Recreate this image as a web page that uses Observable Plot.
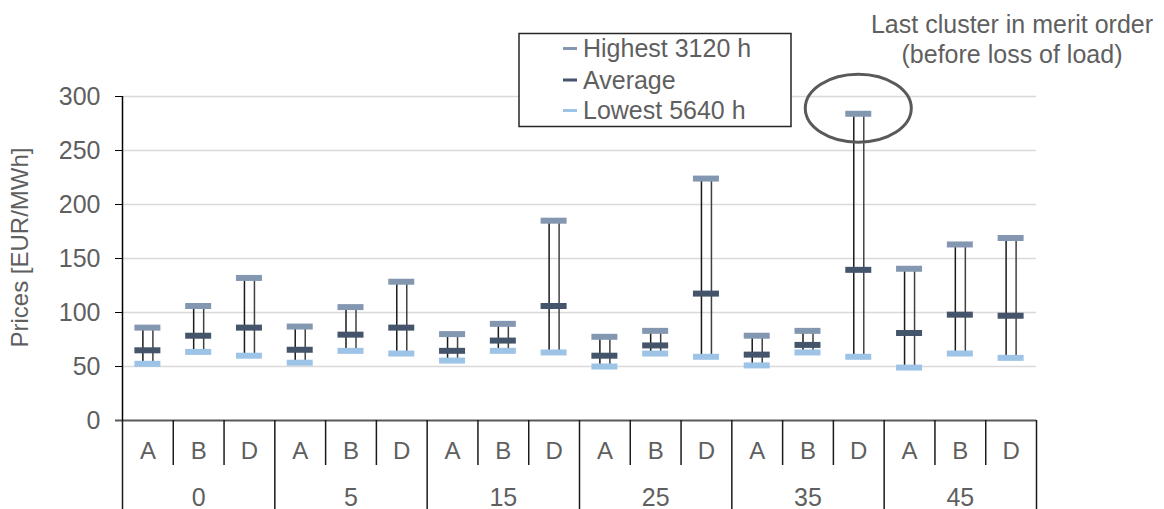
<!DOCTYPE html>
<html>
<head>
<meta charset="utf-8">
<script src="https://cdn.jsdelivr.net/npm/d3@7"></script>
<script src="https://cdn.jsdelivr.net/npm/@observablehq/plot@0.6"></script>
<style>
  html, body { margin: 0; padding: 0; background: white; }
  #chart svg text { fill: #5f5f5f; }
</style>
</head>
<body>
<div id="chart"></div>
<script>
// ---- data ----
const groups = ["0", "5", "15", "25", "35", "45"];
const subcats = ["A", "B", "D"];
const highest = [86, 106, 132, 87, 105, 128.5, 80, 89.5, 185, 77.5, 83, 224, 78.5, 83, 284, 140.5, 163, 169];
const average = [65, 78.5, 86, 65.5, 79.5, 86, 64.5, 74, 106, 60, 69.5, 117.5, 61, 70, 139.5, 81, 98, 97];
const lowest  = [52.5, 63.5, 60, 53.5, 64.5, 62, 55.5, 64.5, 63, 50, 62, 59, 51, 63, 59, 49, 62, 58];
const yTicks = [0, 50, 100, 150, 200, 250, 300];
const seriesNames = ["Highest 3120 h", "Average", "Lowest 5640 h"];
const seriesColors = ["#8497B0", "#44546A", "#9DC3E6"];
const annotation = ["Last cluster in merit order", "(before loss of load)"];
const yLabel = "Prices [EUR/MWh]";

const rows = highest.map((h, i) => ({
  i, group: groups[Math.floor(i / 3)], sub: subcats[i % 3],
  high: h, avg: average[i], low: lowest[i]
}));

// ---- layout ----
const W = 1164, H = 509;
const mL = 122, mR = 128, mT = 96, mB = 89;
const nSlots = rows.length;
const step = (W - mL - mR) / nSlots;          // px per slot
const K = (H - mT - mB) / 300;                 // px per y unit
const capHalf = 13 / step;                     // half cap width in x units
const sepBoundaries = d3.range(0, nSlots + 1);
const FS = 24;

const plot = Plot.plot({
  width: W, height: H,
  marginLeft: mL, marginRight: mR, marginTop: mT, marginBottom: mB,
  style: { fontFamily: "'Liberation Sans', Arial, sans-serif", fontSize: "25px", color: "black", background: "white", overflow: "visible" },
  x: { domain: [0, nSlots], axis: null },
  y: { domain: [0, 300], ticks: yTicks, tickSize: 7, tickPadding: 15, label: null, tickFormat: d => String(d) },
  marks: [
    Plot.ruleY(yTicks.filter(d => d > 0), { stroke: "#d9d9d9", strokeWidth: 1.5 }),
    Plot.ruleY([0], { x1: -7 / step, x2: nSlots, stroke: "#595959", strokeWidth: 2 }),
    Plot.ruleX(sepBoundaries, {
      x: d => d, y1: 0,
      y2: d => (d % 3 === 0 ? -89 : -45) / K,
      stroke: "#1a1a1a", strokeWidth: 1.5
    }),
    Plot.ruleX([0], { y1: 0, y2: 300, stroke: "black", strokeWidth: 1.5 }),
    // hi-lo lines
    Plot.ruleX(rows, { x: d => d.i + 0.5, y1: "low", y2: "high", dx: -5, stroke: "#1a1a1a", strokeWidth: 1.5 }),
    Plot.ruleX(rows, { x: d => d.i + 0.5, y1: "low", y2: "high", dx: 5, stroke: "#404040", strokeWidth: 1.5 }),
    // caps
    Plot.ruleY(rows, { y: "high", x1: d => d.i + 0.5 - capHalf, x2: d => d.i + 0.5 + capHalf, stroke: seriesColors[0], strokeWidth: 6 }),
    Plot.ruleY(rows, { y: "avg",  x1: d => d.i + 0.5 - capHalf, x2: d => d.i + 0.5 + capHalf, stroke: seriesColors[1], strokeWidth: 6 }),
    Plot.ruleY(rows, { y: "low",  x1: d => d.i + 0.5 - capHalf, x2: d => d.i + 0.5 + capHalf, stroke: seriesColors[2], strokeWidth: 6 }),
    // category labels
    Plot.text(rows, { x: d => d.i + 0.5, y: 0, text: "sub", dy: 31, fontSize: FS }),
    Plot.text(groups, { x: (d, i) => 3 * i + 1.5, y: 0, text: d => d, dy: 77.5, fontSize: 25 }),
    // annotation ellipse around the highest D bar in group 35
    (index, scales) => {
      const g = d3.create("svg:g");
      const k = 14;
      g.append("ellipse")
        .attr("cx", scales.x(k + 0.5))
        .attr("cy", scales.y(highest[k]) - 5)
        .attr("rx", 53).attr("ry", 34)
        .attr("fill", "none").attr("stroke", "#595959").attr("stroke-width", 3);
      return g.node();
    }
  ]
});

const svg = d3.select(plot);

// y-axis title
svg.append("text")
  .attr("transform", "translate(28,247.5) rotate(-90)")
  .attr("text-anchor", "middle")
  .attr("font-size", FS)
  .text(yLabel);

// annotation text
annotation.forEach((t, j) => {
  svg.append("text")
    .attr("x", 1012).attr("y", 32.5 + j * 30.5)
    .attr("text-anchor", "middle")
    .attr("font-size", 25)
    .text(t);
});

// legend
const lg = svg.append("g");
lg.append("rect")
  .attr("x", 519).attr("y", 33.5).attr("width", 272).attr("height", 93)
  .attr("fill", "white").attr("stroke", "#262626").attr("stroke-width", 1.5);
const legendY = [48.5, 80, 110.5];
seriesNames.forEach((name, j) => {
  lg.append("line")
    .attr("x1", 563).attr("x2", 577)
    .attr("y1", legendY[j]).attr("y2", legendY[j])
    .attr("stroke", seriesColors[j]).attr("stroke-width", 3);
  lg.append("text")
    .attr("x", 583).attr("y", legendY[j] + 8.5)
    .attr("text-anchor", "start")
    .attr("font-size", 25)
    .text(name);
});

document.getElementById("chart").appendChild(plot);
</script>
</body>
</html>
